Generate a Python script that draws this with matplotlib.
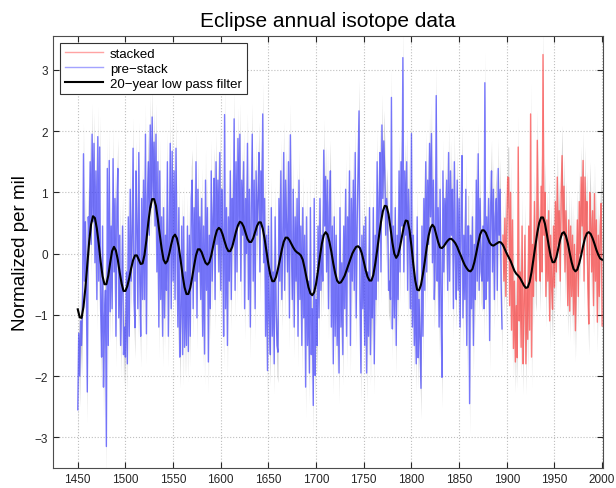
"""Eclipse annual isotope series with a 20-year low pass curve."""

import matplotlib

matplotlib.use("Agg")
import matplotlib.pyplot as plt
import numpy as np

# --- Datos ---
# pre-stack, un valor por año, 1450-1895
pre_stack_start = 1450
pre_stack = [
    -2.55, -1.3, -2.0, -1.1, -1.5, -0.8, 1.63, -0.45, 0.52, -0.6,
    -2.26, 0.6, 0.3, 1.5, 0.15, 1.95, 0.52, 1.8, -0.15, 1.35,
    -0.75, 1.91, -0.45, 1.74, -0.9, -1.69, 0.45, -2.18, -1.05, -0.6,
    -3.15, 1.39, -1.5, 1.52, -0.95, 0.45, -0.9, 1.55, -0.3, 0.9,
    -1.35, 0.75, 1.39, -1.05, 0.3, -1.5, -0.6, 0.45, -1.65, -1.2,
    -1.69, -0.3, -1.8, 0.6, -1.35, 1.05, -0.45, 0.3, 1.72, -0.75,
    -1.21, 1.35, 0.45, -0.9, 1.65, -0.45, -1.35, 0.9, -0.75, 1.2,
    -0.75, 1.95, -1.31, 0.9, 1.5, 0.3, 2.1, 0.75, 2.23, 0.9,
    1.82, 0.45, 1.95, -0.3, 1.5, -1.2, 1.35, -0.75, 0.6, -1.35,
    0.75, -1.05, 0.3, -0.6, 1.5, -1.35, 0.15, 1.8, -0.9, 1.67,
    -0.45, 1.35, -0.75, 1.72, 0.15, -1.2, 0.75, -1.69, -1.05, 0.45,
    -1.65, 0.6, -1.53, -0.3, -1.5, 0.45, -1.6, 0.3, -1.35, 0.9,
    1.2, -0.9, 0.75, -0.45, 1.5, -1.05, 1.05, -0.3, 0.6, -0.75,
    0.9, -1.35, 0.45, -1.64, 1.2, -0.6, 0.75, -1.77, 0.3, -0.9,
    1.35, -0.45, 0.6, 1.23, -0.75, 1.5, 0.15, 1.2, -0.3, 1.65,
    -0.6, 1.05, 0.3, -1.35, 2.27, -0.9, 0.75, -1.5, 0.6, -0.45,
    1.35, -0.75, 0.9, 0.15, 2.2, -0.6, 1.5, -0.3, 1.88, 0.45,
    1.95, -0.45, 1.2, 0.3, 1.5, -0.9, 0.9, 0.0, 1.8, -0.75,
    1.05, -1.2, 0.75, 1.95, -0.45, 1.2, -0.9, 1.35, 0.3, 0.9,
    1.65, -0.3, 1.35, 0.45, 2.28, -0.15, 0.9, -1.35, 0.3, -1.91,
    0.45, -1.05, -1.65, 0.75, -1.35, -0.3, -1.8, 0.6, -0.9, -1.5,
    -1.61, 0.9, -0.45, 1.35, -0.75, 0.3, 1.65, -0.6, 1.2, 0.45,
    -0.3, 1.5, -1.05, 1.94, 0.15, -0.75, 1.05, -1.2, 0.6, -0.45,
    0.9, -1.35, 1.2, -0.75, 0.45, -1.5, 0.75, -1.05, 0.3, -2.18,
    0.6, -1.5, -0.45, -1.95, 0.75, -1.65, -0.9, -2.48, 0.9, -1.99,
    -0.75, -1.5, 0.45, -1.05, 0.9, -0.6, 0.3, -0.45, 1.69, 0.45,
    1.26, -0.3, 1.2, -0.9, 0.75, 1.35, -1.2, 0.45, -1.8, 0.6,
    -1.35, 0.3, -1.5, -0.45, -1.95, 0.75, -1.2, -0.15, -1.65, 0.45,
    -0.9, 1.05, -1.35, 0.6, -0.3, 1.35, -1.5, 0.9, -0.45, 1.2,
    -0.6, 1.65, -1.05, 0.45, 1.35, 2.33, -0.75, -1.95, 0.3, -0.9,
    0.45, -1.5, 0.6, -1.95, -0.3, -1.35, 0.75, -1.65, -0.45, -1.05,
    0.75, -1.8, 0.3, -0.75, 1.5, -0.45, 0.9, 1.65, -0.3, 2.1,
    0.9, 1.84, 1.35, 0.3, 0.9, 0.6, -0.6, -0.45, -0.75, 2.55,
    -1.23, 0.45, -1.05, 0.75, -1.5, 0.3, -0.75, 1.35, -0.3, 1.5,
    0.45, 3.2, -0.3, 1.35, 0.3, 1.5, -0.6, 1.05, 0.15, -0.9,
    1.96, -1.2, 0.3, -1.5, -0.45, -1.8, 0.6, -1.7, -0.75, -1.5,
    -2.2, 0.45, -1.35, 0.9, -0.6, 1.5, -0.3, 1.2, 0.15, 1.8,
    0.6, 1.96, -0.15, 1.2, -0.75, 0.0, 2.58, -0.45, 0.75, -1.2,
    1.05, -0.9, -2.02, 1.35, -0.3, 0.9, 0.15, 1.2, -0.6, 1.65,
    -0.45, 1.35, 0.3, 1.05, -0.9, 1.5, 0.0, -0.75, 1.2, -0.6,
    0.9, -1.2, 0.6, 1.6, -1.05, 0.3, -0.75, 1.05, -1.5, 0.45,
    0.45, -2.45, 0.3, -0.9, 0.6, -1.5, 0.15, -0.75, 1.2, -0.45,
    1.63, -0.6, 0.9, -0.3, -0.45, 0.45, -0.9, 2.79, -0.75, 0.6,
    -0.45, 0.9, -1.42, 0.75, 1.35, -0.3, 1.05, -0.75, 0.6, 0.9,
    -0.6, 1.39, 0.3, 1.05, -0.45, -1.23,
]

# stacked, un valor por año, 1896-2000
stacked_start = 1896
stacked = [
    0.3, -0.45, 0.58, -0.7,
    0.45, 1.25, 1.24, -0.85, 1.0, -1.25, 0.55, -1.55, -0.45, -1.77,
    -0.85, -1.7, 1.74, -1.1, -0.3, -1.53, 0.45, -1.8, -0.85, 0.3,
    -1.8, -0.55, -1.4, 0.45, -1.25, 2.28, -1.69, 0.15, -0.7, 0.85,
    -0.3, -0.45, 1.85, 0.45, 0.15, -0.45, 1.1, -0.3, 3.25, 0.3,
    1.0, -0.7, 0.55, -0.45, 0.7, -1.1, 0.3, -0.55, -0.91, 0.45,
    -0.55, 0.85, -0.3, 1.25, 0.15, 0.7, -0.45, 1.0, 1.6, 0.3,
    1.1, -0.3, 0.7, 0.0, -0.85, 0.55, -0.94, 0.45, -0.7, 0.3,
    -1.0, 0.15, -1.26, -0.3, 0.55, -0.7, 0.85, 0.0, 1.25, 0.45,
    1.52, -0.45, 1.25, 0.3, 0.85, -0.55, -1.15, 1.0, 0.55, -0.3,
    0.7, -0.85, 0.98, -0.45, 0.55, -1.12, 0.3, -0.7, 0.45, 0.82, -1.18,
]

# curva del filtro pasa bajos de 20 años, cada 2 años, 1450-2000
lowpass_start = 1450
lowpass_step = 2
lowpass = [
    -0.91, -1.04, -1.05, -0.87, -0.56, -0.18, 0.20, 0.48, 0.61, 0.58,
    0.41, 0.16, -0.13, -0.37, -0.50, -0.50, -0.36, -0.15, 0.04, 0.11,
    0.05, -0.10, -0.31, -0.49, -0.61, -0.61, -0.53, -0.40, -0.24, -0.11,
    -0.03, -0.03, -0.10, -0.17, -0.16, -0.02, 0.22, 0.51, 0.75, 0.89,
    0.89, 0.78, 0.56, 0.31, 0.08, -0.10, -0.16, -0.12, 0.00, 0.15,
    0.27, 0.31, 0.25, 0.10, -0.12, -0.36, -0.55, -0.66, -0.66, -0.56,
    -0.39, -0.20, -0.03, 0.07, 0.07, 0.02, -0.07, -0.15, -0.18, -0.14,
    -0.03, 0.12, 0.27, 0.38, 0.42, 0.39, 0.31, 0.20, 0.10, 0.04,
    0.04, 0.11, 0.23, 0.36, 0.46, 0.52, 0.50, 0.44, 0.34, 0.24,
    0.19, 0.19, 0.25, 0.35, 0.45, 0.51, 0.51, 0.41, 0.24, 0.03,
    -0.18, -0.35, -0.45, -0.45, -0.38, -0.25, -0.10, 0.06, 0.19, 0.26,
    0.26, 0.22, 0.16, 0.10, 0.05, 0.02, 0.00, -0.03, -0.10, -0.24,
    -0.40, -0.55, -0.65, -0.68, -0.63, -0.49, -0.28, -0.05, 0.16, 0.30,
    0.35, 0.31, 0.19, 0.03, -0.16, -0.32, -0.44, -0.48, -0.47, -0.42,
    -0.36, -0.27, -0.18, -0.09, 0.00, 0.06, 0.11, 0.12, 0.09, 0.00,
    -0.13, -0.27, -0.38, -0.44, -0.44, -0.35, -0.17, 0.05, 0.29, 0.51,
    0.69, 0.78, 0.77, 0.64, 0.42, 0.18, 0.00, -0.07, -0.02, 0.11,
    0.28, 0.44, 0.54, 0.53, 0.38, 0.12, -0.18, -0.44, -0.59, -0.60,
    -0.51, -0.34, -0.13, 0.10, 0.29, 0.42, 0.47, 0.43, 0.31, 0.19,
    0.10, 0.09, 0.12, 0.17, 0.21, 0.24, 0.24, 0.21, 0.17, 0.11,
    0.03, -0.04, -0.12, -0.19, -0.24, -0.28, -0.29, -0.25, -0.14, 0.01,
    0.17, 0.31, 0.38, 0.38, 0.34, 0.26, 0.18, 0.14, 0.13, 0.15,
    0.17, 0.19, 0.18, 0.14, 0.07, 0.00, -0.06, -0.12, -0.20, -0.28,
    -0.33, -0.36, -0.40, -0.46, -0.52, -0.56, -0.55, -0.46, -0.30, -0.09,
    0.13, 0.34, 0.50, 0.59, 0.59, 0.49, 0.32, 0.13, -0.04, -0.14,
    -0.14, -0.06, 0.08, 0.23, 0.33, 0.35, 0.29, 0.17, 0.01, -0.14,
    -0.25, -0.29, -0.26, -0.16, -0.03, 0.12, 0.25, 0.33, 0.35, 0.32,
    0.25, 0.16, 0.06, -0.02, -0.08, -0.10,
]

# incertidumbre (banda gris) alrededor de cada valor anual
spread = 0.5

x_ticks = list(range(1450, 2001, 50))
y_ticks = [-3, -2, -1, 0, 1, 2, 3]


def main() -> None:
    plt.rcParams["font.family"] = ["Liberation Sans", "DejaVu Sans"]

    pre_years = np.arange(pre_stack_start, pre_stack_start + len(pre_stack))
    stk_years = np.arange(stacked_start, stacked_start + len(stacked))
    lp_years = np.arange(lowpass_start, lowpass_start + lowpass_step * len(lowpass), lowpass_step)
    pre_vals = np.array(pre_stack)
    stk_vals = np.array(stacked)

    fig = plt.figure(figsize=(6.16, 4.89), dpi=100)
    ax = fig.add_axes([0.086, 0.041, 0.893, 0.883])

    # banda gris de incertidumbre
    for yrs, vals in ((pre_years, pre_vals), (stk_years, stk_vals)):
        ax.fill_between(yrs, vals - spread, vals + spread, color="0.45", alpha=0.3, lw=0)

    ax.plot(stk_years, stk_vals, color=(1.0, 0.2, 0.2), alpha=0.65, lw=1.0, label="stacked")
    ax.plot(pre_years, pre_vals, color=(0.2, 0.2, 1.0), alpha=0.65, lw=1.0, label="pre\u2212stack")
    ax.plot(lp_years, lowpass, color="black", lw=1.5, label="20\u2212year low pass filter")

    ax.set_xlim(1424, 2001)
    ax.set_ylim(-3.5, 3.55)
    ax.set_xticks(x_ticks)
    ax.set_yticks(y_ticks)
    ax.set_yticklabels([str(v).replace("-", "\u2212") for v in y_ticks])
    ax.tick_params(direction="in", top=True, right=True, labelsize=8.5, length=4, colors="0.15")
    ax.grid(True, linestyle=":", color="0.75", lw=0.8)
    for sp in ax.spines.values():
        sp.set_color("0.3")

    ax.set_title("Eclipse annual isotope data", fontsize=15, pad=7)
    ax.set_ylabel("Normalized per mil", fontsize=13.5, labelpad=4)

    leg = ax.legend(
        loc="upper left",
        bbox_to_anchor=(0.0127, 0.984),
        borderaxespad=0,
        fontsize=9.5,
        fancybox=False,
        framealpha=1,
        edgecolor="0.2",
        handlelength=2.9,
        handletextpad=0.55,
        labelspacing=0.2,
        borderpad=0.35,
    )
    leg.get_frame().set_linewidth(0.8)
    # las líneas de la leyenda se ven más pálidas que en el gráfico
    for h in leg.get_lines()[:2]:
        h.set_alpha(0.45)

    fig.savefig("out.png", dpi=100)
    plt.close(fig)


if __name__ == "__main__":
    main()
